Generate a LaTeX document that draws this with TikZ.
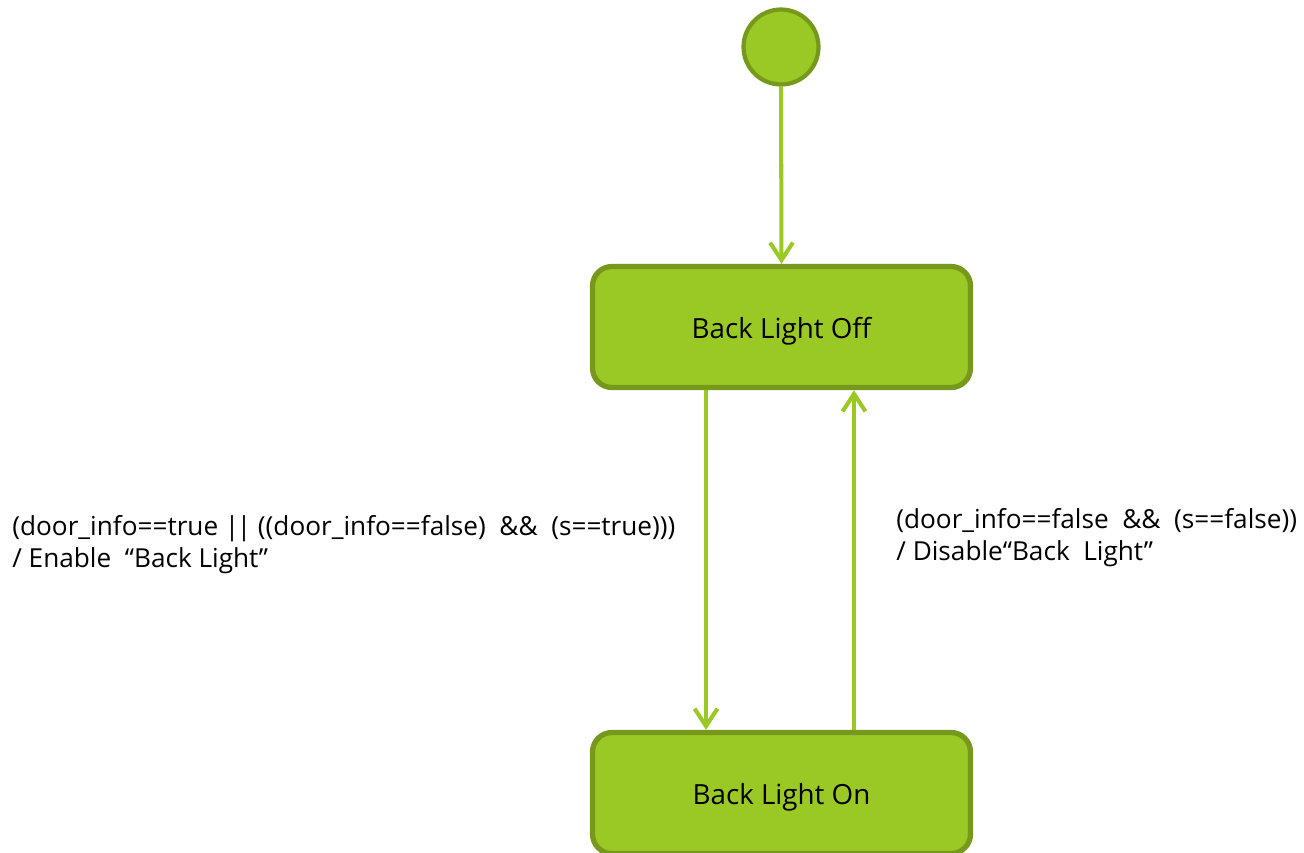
\documentclass[tikz,border=0pt]{standalone}
\usepackage{fontspec}
\setmainfont{Open Sans}
\usetikzlibrary{arrows.meta}
\definecolor{leaf}{RGB}{154,200,36}
\definecolor{leafdark}{RGB}{118,152,28}
% lower the state name a little while keeping the box dimensions
\newcommand{\statetext}[1]{\raisebox{-0.09cm}[\height][\depth]{#1}}
\begin{document}
\begin{tikzpicture}[x=0.02cm,y=-0.02cm,
  statebox/.style={draw=leafdark,fill=leaf,line width=3pt,rounded corners=11pt,
    minimum width=7.56cm,minimum height=2.42cm,inner sep=0pt,
    font=\fontsize{15.8}{18}\selectfont},
  initial/.style={circle,draw=leafdark,fill=leaf,line width=2.4pt,minimum size=1.5cm,inner sep=0pt},
  trans/.style={draw=leaf,line width=2.3pt,-{Straight Barb[length=10pt,width=13pt,line width=2.3pt]}},
  guard/.style={align=left,anchor=west,inner sep=0pt,font=\fontsize{14.9}{18.2}\selectfont}
]
\useasboundingbox (0,0) rectangle (1304,852);

\node[initial] (init) at (781,47) {};
\node[statebox] (off) at (781.5,327) {\statetext{Back Light Off}};
\node[statebox] (on) at (781.5,793) {\statetext{Back Light On}};

\draw[trans] (init.south) -- (off.north);
\draw[trans] (off.south -| 706,0) -- (on.north -| 706,0);
\draw[trans] (on.north -| 854,0) -- (off.south -| 854,0);

\node[guard] (g1) at (12,545) {(door\_info==true |\kern-1.5pt| ((door\_info==false)~ \&\& ~(s==true)))\\/ Enable~ “Back Light”};
\node[guard] (g2) at (896,538) {(door\_info==false~ \&\&~ (s==false))\\/ Disable“Back~ Light”};
\end{tikzpicture}
\end{document}
